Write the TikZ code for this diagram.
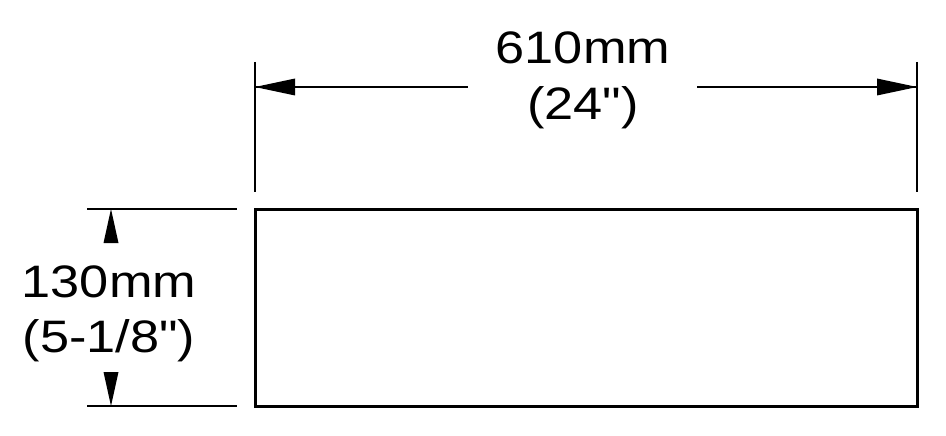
\documentclass[tikz,border=0pt]{standalone}
\usepackage{fontspec}
\setmainfont{Liberation Sans}[FakeStretch=1.15,Ligatures=TeXOff]
\begin{document}
\begin{tikzpicture}[x=1pt,y=-1pt,
  dimline/.style={line width=2pt,black},
  outline/.style={line width=3pt,black},
  arrowhead/.style={fill=black,draw=none},
  dimtext/.style={font=\fontsize{45.5}{55}\selectfont,inner sep=0pt,anchor=base}]
\useasboundingbox (0,0) rectangle (946,436);
% plate
\draw[outline] (255,209) rectangle (917,406);
% top extension lines
\coordinate (tl1) at (255,62); \coordinate (tl2) at (255,192);
\coordinate (tr1) at (917,62); \coordinate (tr2) at (917,192);
\draw[dimline] (tl1) -- (tl2);
\draw[dimline] (tr1) -- (tr2);
% top dimension text
\node[dimtext] (w1) at (583,64) {610mm};
\node[dimtext] (w2) at (583,120) {(24")};
\coordinate (wl) at (255,87); \coordinate (wr) at (917,87);
\coordinate (wlgap) at (468,87); \coordinate (wrgap) at (697,87);
\draw[dimline] (wl) -- (wlgap);
\draw[dimline] (wrgap) -- (wr);
\fill[arrowhead] (wl) -- ++(40,-8.5) -- ++(0,17) -- cycle;
\fill[arrowhead] (wr) -- ++(-40,-8.5) -- ++(0,17) -- cycle;
% left extension lines
\coordinate (lt1) at (87,209); \coordinate (lt2) at (237,209);
\coordinate (lb1) at (87,406); \coordinate (lb2) at (237,406);
\draw[dimline] (lt1) -- (lt2);
\draw[dimline] (lb1) -- (lb2);
% left dimension text
\node[dimtext] (h1) at (109,297) {130mm};
\node[dimtext] (h2) at (109,352) {(5-1/8")};
\coordinate (ht) at (111,209); \coordinate (hb) at (111,406);
\fill[arrowhead] (ht) -- ++(-7.5,34) -- ++(15,0) -- cycle;
\fill[arrowhead] (hb) -- ++(-7.5,-34) -- ++(15,0) -- cycle;
\end{tikzpicture}
\end{document}
